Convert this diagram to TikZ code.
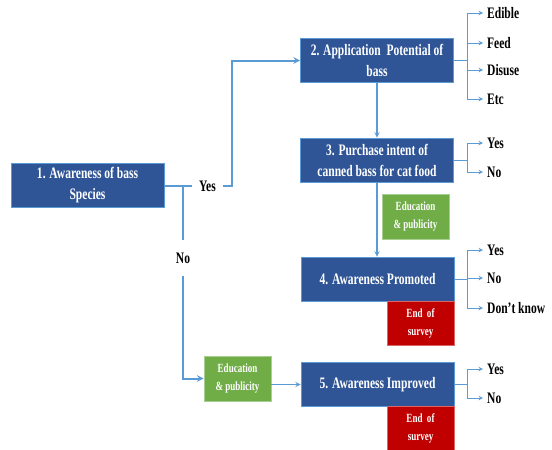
\documentclass[tikz,border=0pt]{standalone}
\usepackage{fontspec}
\newfontfamily\diagfont[FakeStretch=0.72]{Liberation Serif}
\usepackage{xcolor}
\definecolor{boxblue}{RGB}{47,85,151}
\definecolor{lineblue}{RGB}{91,155,213}
\definecolor{edugreen}{RGB}{112,173,71}
\definecolor{endred}{RGB}{192,0,0}

\begin{document}
\begin{tikzpicture}[x=1pt, y=-1pt,
    stage/.style={rectangle, draw=lineblue, line width=0.6pt, fill=boxblue, text=white, minimum width=153pt, minimum height=44pt, inner sep=2pt, align=center, font=\diagfont\bfseries\fontsize{16}{21}\selectfont},
    edu/.style={rectangle, draw=edugreen!60!white, line width=0.6pt, fill=edugreen, text=white, minimum width=67pt, minimum height=45pt, inner sep=2pt, align=center, font=\diagfont\bfseries\fontsize{12.5}{18}\selectfont},
    endbox/.style={rectangle, draw=endred!60!white, line width=0.6pt, fill=endred, text=white, minimum width=67pt, minimum height=44pt, inner sep=2pt, align=center, font=\diagfont\bfseries\fontsize{12.5}{18}\selectfont},
    choice/.style={inner xsep=6.5pt, text height=11pt, text depth=0pt, font=\diagfont\bfseries\fontsize{16}{18}\selectfont},
    answer/.style={anchor=west, inner sep=4pt, text height=11pt, text depth=0pt, font=\diagfont\bfseries\fontsize{16}{18}\selectfont},
    flow/.style={draw=lineblue, line width=2pt},
    mid/.style={draw=lineblue, line width=1.4pt},
    branch/.style={draw=lineblue, line width=1pt},
    >=stealth
]
    \useasboundingbox (0,0) rectangle (552,450);

    % Stages
    \node[stage] (aware) at (87.5,185.5) {1. Awareness of bass\\Species};
    \node[stage] (app) at (377,60.5) {2. Application\ \ Potential of\\bass};
    \node[stage] (buy) at (377,160) {3. Purchase intent of\\canned bass for cat food};
    \node[stage] (prom) at (377.5,279) {4. Awareness Promoted};
    \node[stage] (impr) at (377.5,384.5) {5. Awareness Improved};

    % Education and end of survey
    \node[edu] (edu1) at (415.5,216.5) {Education\\\& publicity};
    \node[edu] (edu2) at (237.5,378.5) {Education\\\& publicity};
    \node[endbox] (end1) at (420.5,323) {End\ \ of\\survey};
    \node[endbox] (end2) at (420.5,428) {End\ \ of\\survey};

    % Yes / No from stage 1
    \coordinate (split) at (183,185.5);
    \node[choice] (yes) at (207.5,185.5) {Yes};
    \node[choice, inner ysep=12pt] (no) at (183,258) {No};
    \draw[flow] (aware.east) -- (yes.west);
    \draw[flow,->] (yes.east) -- ++(9,0) |- (app.west);
    \draw[flow] (split) -- (no.north);
    \draw[flow,->] (no.south) |- (edu2.west);
    \draw[mid,->] (edu2.east |- impr.west) -- (impr.west);

    % Main line
    \draw[mid,->] (app) -- (buy);
    \draw[mid,->] (buy.south) -- (buy.south |- prom.north);

    % Answers
    \draw[branch] (app.east) -- ++(14,0) coordinate (appfork);
    \foreach \n/\t/\y in {edible/Edible/13, feed/Feed/43, disuse/Disuse/70, etc/Etc/99} {
        \node[answer] (\n) at (483,\y) {\t};
        \draw[branch,->] (appfork) |- (\n.west);
    }
    \draw[branch] (buy.east) -- ++(14,0) coordinate (buyfork);
    \foreach \n/\t/\y in {buyyes/Yes/143, buyno/No/172} {
        \node[answer] (\n) at (483,\y) {\t};
        \draw[branch,->] (buyfork) |- (\n.west);
    }
    \draw[branch] (prom.east) -- ++(13,0) coordinate (promfork);
    \foreach \n/\t/\y in {promyes/Yes/250, promno/No/278, promdk/Don’t know/308} {
        \node[answer] (\n) at (483,\y) {\t};
        \draw[branch,->] (promfork) |- (\n.west);
    }
    \draw[branch] (impr.east) -- ++(13,0) coordinate (imprfork);
    \foreach \n/\t/\y in {impyes/Yes/369, impno/No/398} {
        \node[answer] (\n) at (483,\y) {\t};
        \draw[branch,->] (imprfork) |- (\n.west);
    }
\end{tikzpicture}
\end{document}
